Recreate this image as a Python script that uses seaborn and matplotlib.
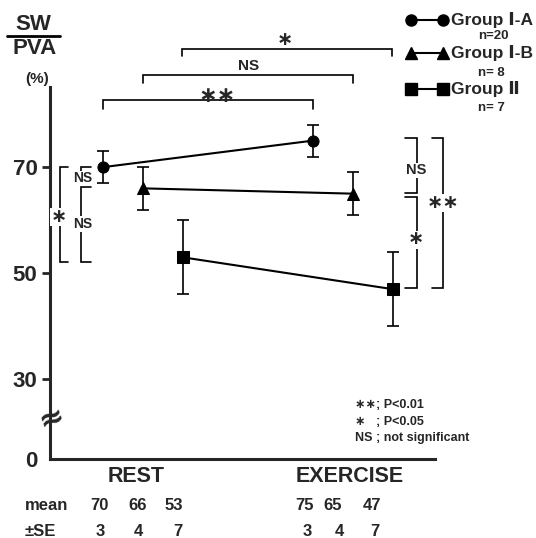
import numpy as np
import pandas as pd
import matplotlib
matplotlib.use("Agg")
import matplotlib.pyplot as plt
from matplotlib.lines import Line2D
import seaborn as sns

# data
conditions = ["REST", "EXERCISE"]
groups = ["Group Ⅰ-A", "Group Ⅰ-B", "Group Ⅱ"]
n_sizes = ["n=20", "n= 8", "n= 7"]
mean_rest = [70, 66, 53]
mean_exercise = [75, 65, 47]
se_rest = [3, 4, 7]
se_exercise = [3, 4, 7]
markers = ["o", "^", "s"]

sns.set_style("ticks")
plt.rcParams["font.family"] = ["Liberation Sans", "DejaVu Sans"]
plt.rcParams["font.weight"] = "bold"

W, H = 536, 538
def fx(px):
    return px / W
def fy(py):
    return 1 - py / H

# long table for seaborn
offsets = [-0.19, 0.0, 0.19]
rows = []
for gi, g in enumerate(groups):
    for ci, means, ses in [(0, mean_rest, se_rest), (1, mean_exercise, se_exercise)]:
        rows.append({"group": g, "x": ci + offsets[gi], "mean": means[gi], "se": ses[gi]})
df = pd.DataFrame(rows)

fig = plt.figure(figsize=(W / 100, H / 100), dpi=100)
ax = fig.add_axes([fx(50), fy(459), (435 - 50) / W, (459 - 87) / H])

sns.lineplot(data=df, x="x", y="mean", hue="group", style="group",
             markers=markers, dashes=False, palette=["black"] * 3,
             markersize=8, linewidth=1.5, legend=False, ax=ax,
             markeredgecolor="black")
ax.errorbar(df["x"], df["mean"], yerr=df["se"], fmt="none", ecolor="black",
            elinewidth=1.2, capsize=4.5, capthick=1.2)

# broken axis: 0 is drawn at position 15
ax.set_xlim(-0.443, 1.390)
ax.set_ylim(15, 85.1)
ax.set_yticks([15, 30, 50, 70])
ax.set_yticklabels(["0", "30", "50", "70"], fontsize=16, fontweight="bold")
ax.set_xticks([])
ax.set_xlabel("")
ax.set_ylabel("")
ax.tick_params(axis="y", length=6, width=2, pad=3)
ax.yaxis.get_major_ticks()[0].tick1line.set_visible(False)
for s in ["top", "right"]:
    ax.spines[s].set_visible(False)
for s in ["left", "bottom"]:
    ax.spines[s].set_linewidth(2.2)
ax.text(0.005, 22.6, "≈", fontsize=22, fontweight="bold", ha="center", va="center",
        rotation=20, family="DejaVu Sans",
        transform=ax.get_yaxis_transform(), clip_on=False)

def bracket(xs, ys, label, tx, ty, size=11):
    ax.plot(xs, ys, color="black", lw=1.2, clip_on=False, solid_joinstyle="miter")
    ax.text(tx, ty, label, fontsize=size, fontweight="bold", ha="center", va="center",
            bbox=dict(fc="white", ec="none", pad=0.5), clip_on=False, zorder=5)

# top comparisons rest vs exercise
bracket([-0.19, -0.19, 0.81, 0.81], [80.9, 82.6, 82.6, 80.9], "", 0.3, 83.8)
ax.text(0.35, 83.4, "∗∗", fontsize=16, fontweight="bold", ha="center", va="center",
        family="DejaVu Sans", clip_on=False)
bracket([0.0, 0.0, 1.0, 1.0], [85.8, 87.4, 87.4, 85.8], "", 0.5, 89)
ax.text(0.50, 89.1, "NS", fontsize=11, fontweight="bold", ha="center", va="center", clip_on=False)
bracket([0.186, 0.186, 1.186, 1.186], [90.9, 92.3, 92.3, 90.9], "", 0.7, 94)
ax.text(0.676, 94.0, "∗", fontsize=14, fontweight="bold", ha="center", va="center",
        family="DejaVu Sans", clip_on=False)

# rest between groups
bracket([-0.357, -0.395, -0.395, -0.357], [70, 70, 52.1, 52.1], "∗", -0.40, 60.6, 14)
bracket([-0.248, -0.295, -0.295, -0.248], [70, 70, 66.6, 66.6], "NS", -0.285, 67.9, 10)
bracket([-0.248, -0.295, -0.295, -0.248], [66.2, 66.2, 52.1, 52.1], "NS", -0.285, 59.3, 10)

# exercise between groups
bracket([1.248, 1.305, 1.305, 1.248], [75.5, 75.5, 65.1, 65.1], "NS", 1.30, 69.4, 10.5)
bracket([1.248, 1.305, 1.305, 1.248], [64.3, 64.3, 47.2, 47.2], "∗", 1.30, 56.3, 14)
bracket([1.376, 1.429, 1.429, 1.376], [75.5, 75.5, 47.2, 47.2], "∗∗", 1.429, 63.2, 14)

# y label
fig.text(fx(33), fy(25), "SW", fontsize=16, fontweight="bold", ha="center", va="center")
fig.add_artist(Line2D([fx(7), fx(60)], [fy(36), fy(36)], color="black", lw=2))
fig.text(fx(35), fy(49), "PVA", fontsize=16, fontweight="bold", ha="center", va="center")
fig.text(fx(37), fy(79), "(%)", fontsize=11, fontweight="bold", ha="center", va="center")

# legend
leg_y = [20, 53, 89]
n_y = [36, 73, 108]
for g, m, nn, ly, ny in zip(groups, markers, n_sizes, leg_y, n_y):
    fig.add_artist(Line2D([fx(411), fx(443)], [fy(ly), fy(ly)], color="black", lw=1.5,
                          marker=m, markersize=8))
    fig.text(fx(451), fy(ly), g, fontsize=12.5, fontweight="bold", ha="left", va="center")
    fig.text(fx(478), fy(ny), nn, fontsize=9.5, fontweight="bold", ha="left", va="center")

# condition labels and table
fig.text(fx(136), fy(477), conditions[0], fontsize=15.5, fontweight="bold", ha="center", va="center")
fig.text(fx(350), fy(477), conditions[1], fontsize=15.5, fontweight="bold", ha="center", va="center")
mean_x = [99, 138, 174, 305, 333, 372]
se_x = [100, 138, 178, 307, 339, 375]
fig.text(fx(25), fy(506), "mean", fontsize=12, fontweight="bold", ha="left", va="center")
fig.text(fx(25), fy(532), "±SE", fontsize=12, fontweight="bold", ha="left", va="center")
for px, v in zip(mean_x, mean_rest + mean_exercise):
    fig.text(fx(px), fy(506), str(v), fontsize=12, fontweight="bold", ha="center", va="center")
for px, v in zip(se_x, se_rest + se_exercise):
    fig.text(fx(px), fy(532), str(v), fontsize=12, fontweight="bold", ha="center", va="center")

# footnote
notes = ["∗∗; P<0.01", "∗   ; P<0.05", "NS ; not significant"]
for py, t in zip([405, 422, 438], notes):
    fig.text(fx(355), fy(py), t, fontsize=9, fontweight="bold", ha="left", va="center")

fig.savefig("out.png", dpi=100)
